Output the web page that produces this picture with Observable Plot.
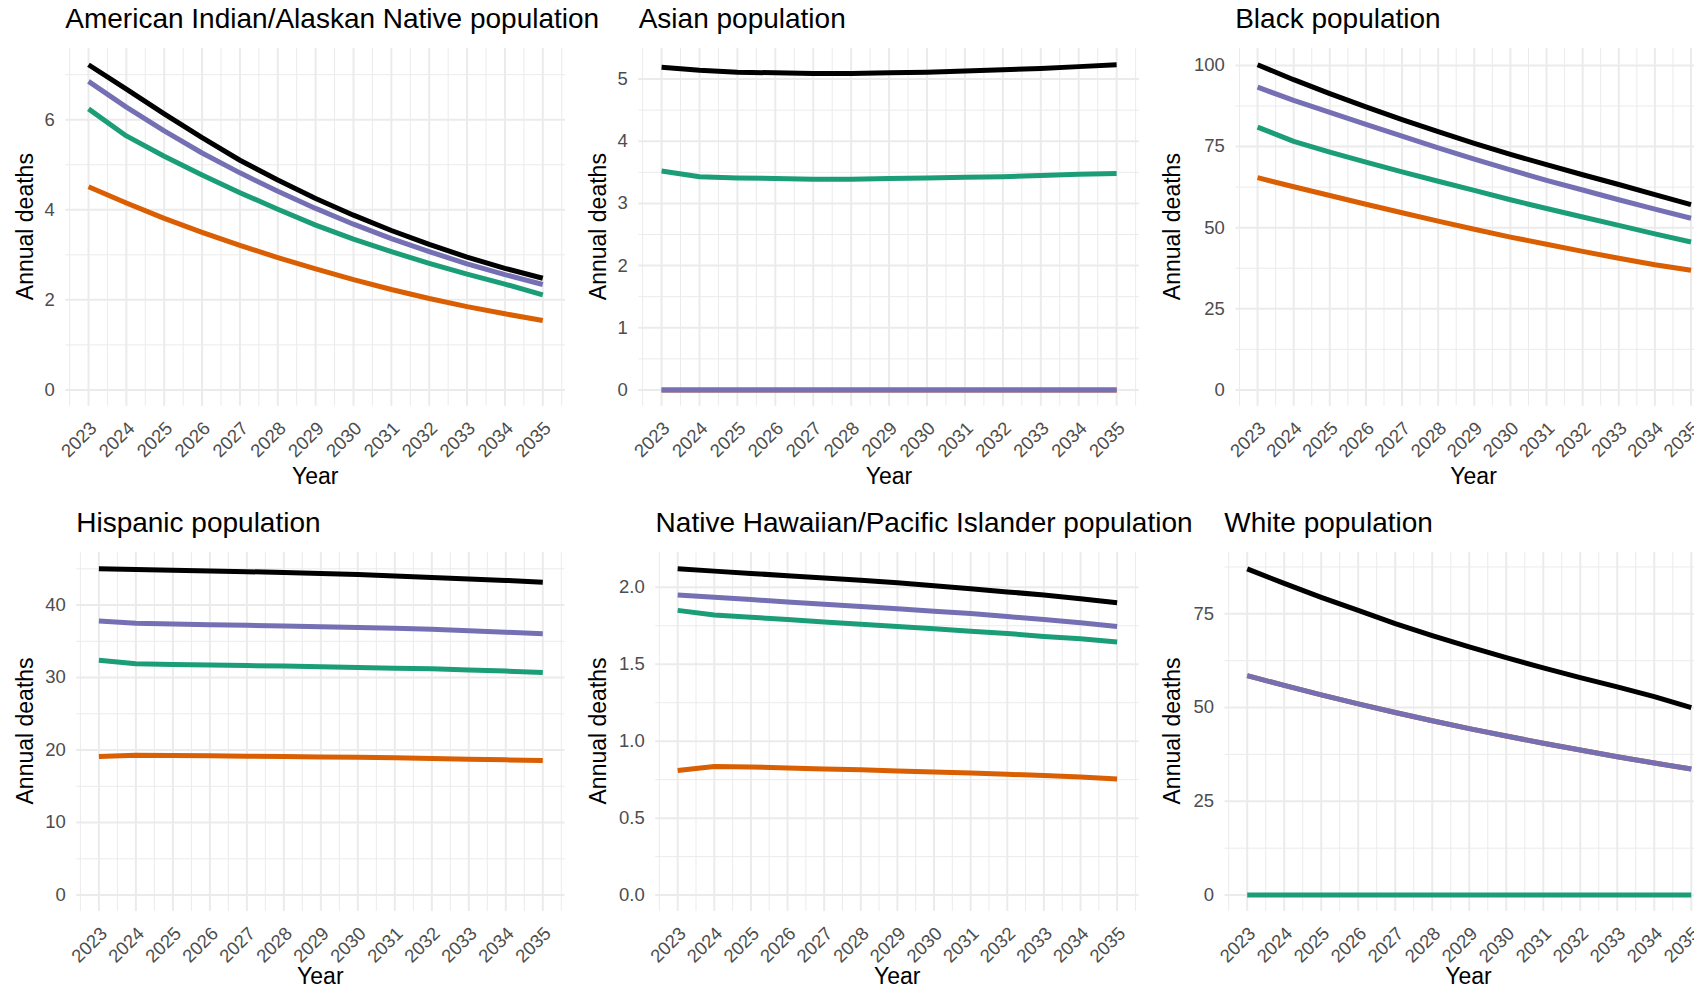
<!DOCTYPE html>
<html><head><meta charset="utf-8">
<script src="https://cdn.jsdelivr.net/npm/d3@7"></script>
<script src="https://cdn.jsdelivr.net/npm/@observablehq/plot@0.6"></script>
<style>
html,body{margin:0;padding:0;background:#fff;}
body{width:1694px;height:989px;overflow:hidden;position:relative;}
.pn{position:absolute;overflow:visible;}
.pn svg{max-width:none !important;}
#overlay{position:absolute;left:0;top:0;pointer-events:none;}
</style></head><body>
<script>
// ---------- data ----------
const years = [2023, 2024, 2025, 2026, 2027, 2028, 2029, 2030, 2031, 2032, 2033, 2034, 2035];
const seriesKeys = ["Series 1", "Series 2", "Series 3", "Series 4"]; // draw order

const aianS1 = [4.51, 4.15, 3.81, 3.50, 3.21, 2.94, 2.69, 2.45, 2.23, 2.03, 1.85, 1.69, 1.54];
const aianS2 = [6.85, 6.28, 5.75, 5.26, 4.82, 4.41, 4.03, 3.68, 3.36, 3.07, 2.80, 2.56, 2.34];
const aianS3 = [6.24, 5.64, 5.19, 4.77, 4.38, 4.01, 3.66, 3.35, 3.07, 2.81, 2.57, 2.35, 2.11];
const aianS4 = [7.22, 6.68, 6.13, 5.60, 5.10, 4.66, 4.25, 3.88, 3.54, 3.23, 2.95, 2.70, 2.48];
const aianTicks = [0, 2, 4, 6];

const asianS1 = [0, 0, 0, 0, 0, 0, 0, 0, 0, 0, 0, 0, 0];
const asianS2 = [0, 0, 0, 0, 0, 0, 0, 0, 0, 0, 0, 0, 0];
const asianS3 = [3.52, 3.43, 3.41, 3.40, 3.39, 3.39, 3.40, 3.41, 3.42, 3.43, 3.45, 3.47, 3.48];
const asianS4 = [5.19, 5.14, 5.11, 5.10, 5.09, 5.09, 5.10, 5.11, 5.13, 5.15, 5.17, 5.20, 5.23];
const asianTicks = [0, 1, 2, 3, 4, 5];

const blackS1 = [65.4, 62.6, 59.9, 57.2, 54.6, 52.0, 49.5, 47.1, 44.9, 42.7, 40.6, 38.6, 36.9];
const blackS2 = [93.3, 89.2, 85.5, 81.8, 78.2, 74.6, 71.1, 67.8, 64.6, 61.6, 58.6, 55.7, 52.9];
const blackS3 = [81.0, 76.6, 73.3, 70.2, 67.2, 64.3, 61.5, 58.6, 55.9, 53.3, 50.7, 48.1, 45.6];
const blackS4 = [100.2, 95.6, 91.3, 87.2, 83.3, 79.6, 76.0, 72.6, 69.4, 66.3, 63.3, 60.2, 57.1];
const blackTicks = [0, 25, 50, 75, 100];

const hispS1 = [19.1, 19.3, 19.25, 19.2, 19.15, 19.1, 19.05, 19.0, 18.95, 18.85, 18.75, 18.65, 18.55];
const hispS2 = [37.8, 37.5, 37.4, 37.3, 37.2, 37.1, 37.0, 36.9, 36.8, 36.65, 36.45, 36.25, 36.05];
const hispS3 = [32.4, 31.9, 31.8, 31.75, 31.65, 31.6, 31.5, 31.4, 31.3, 31.2, 31.05, 30.9, 30.7];
const hispS4 = [45.0, 44.9, 44.8, 44.7, 44.6, 44.5, 44.35, 44.2, 44.0, 43.8, 43.6, 43.4, 43.15];
const hispTicks = [0, 10, 20, 30, 40];

const nhpiS1 = [0.81, 0.836, 0.832, 0.826, 0.82, 0.814, 0.807, 0.80, 0.793, 0.785, 0.777, 0.768, 0.755];
const nhpiS2 = [1.95, 1.935, 1.92, 1.905, 1.89, 1.875, 1.86, 1.845, 1.83, 1.81, 1.79, 1.77, 1.745];
const nhpiS3 = [1.85, 1.82, 1.805, 1.79, 1.775, 1.76, 1.745, 1.73, 1.715, 1.70, 1.68, 1.665, 1.645];
const nhpiS4 = [2.12, 2.105, 2.09, 2.075, 2.06, 2.045, 2.03, 2.01, 1.99, 1.97, 1.95, 1.925, 1.90];
const nhpiTicks = [0, 0.5, 1, 1.5, 2];

const whiteS1 = [58.5, 55.9, 53.4, 51.0, 48.7, 46.5, 44.4, 42.4, 40.5, 38.7, 36.9, 35.2, 33.6];
const whiteS2 = [58.5, 55.9, 53.4, 51.0, 48.7, 46.5, 44.4, 42.4, 40.5, 38.7, 36.9, 35.2, 33.6];
const whiteS3 = [0, 0, 0, 0, 0, 0, 0, 0, 0, 0, 0, 0, 0];
const whiteS4 = [87.0, 83.1, 79.4, 75.9, 72.4, 69.2, 66.2, 63.3, 60.6, 58.0, 55.5, 52.9, 50.0];
const whiteTicks = [0, 25, 50, 75];

const panelTitles = ["American Indian/Alaskan Native population", "Asian population", "Black population",
  "Hispanic population", "Native Hawaiian/Pacific Islander population", "White population"];
const xTitle = "Year";
const yTitle = "Annual deaths";

// ---------- styling / layout ----------
const palette = ["#D95F02", "#7570B3", "#1B9E77", "#000000"];
const FONT = '"Liberation Sans", Arial, Helvetica, sans-serif';
const GRID = "#EBEBEB";
const TICKCOL = "#4D4D4D";

const panels = [
  {title: panelTitles[0], cell: 0,      L: 65.3,   R: 565,    T: 47.8,  B: 405.5, ticks: aianTicks,  fmt: d3.format("d"),   series: [aianS1, aianS2, aianS3, aianS4]},
  {title: panelTitles[1], cell: 573.4,  L: 638.7,  R: 1139.3, T: 47.8,  B: 405.5, ticks: asianTicks, fmt: d3.format("d"),   series: [asianS1, asianS2, asianS3, asianS4]},
  {title: panelTitles[2], cell: 1146.8, L: 1235.2, R: 1712,   T: 47.8,  B: 405.5, ticks: blackTicks, fmt: d3.format("d"),   series: [blackS1, blackS2, blackS3, blackS4]},
  {title: panelTitles[3], cell: 0,      L: 76.2,   R: 564.5,  T: 551.5, B: 910.4, ticks: hispTicks,  fmt: d3.format("d"),   series: [hispS1, hispS2, hispS3, hispS4]},
  {title: panelTitles[4], cell: 573.4,  L: 655.6,  R: 1139,   T: 551.5, B: 910.4, ticks: nhpiTicks,  fmt: d3.format(".1f"), series: [nhpiS1, nhpiS2, nhpiS3, nhpiS4]},
  {title: panelTitles[5], cell: 1146.8, L: 1224.3, R: 1712.8, T: 551.5, B: 910.4, ticks: whiteTicks, fmt: d3.format("d"),   series: [whiteS1, whiteS2, whiteS3, whiteS4]},
];

const span = years[years.length - 1] - years[0];
const xDomain = [years[0] - 0.05 * span, years[years.length - 1] + 0.05 * span];
const minorX = years.map(y => y - 0.5).concat([years[years.length - 1] + 0.5]);

panels.forEach((p, idx) => {
  const data = [];
  p.series.forEach((arr, i) => arr.forEach((v, j) => data.push({year: years[j], value: v, series: seriesKeys[i]})));
  const hi = d3.max(data, d => d.value), lo = Math.min(0, d3.min(data, d => d.value));
  const pad = (hi - lo) * 0.05;
  const yDomain = [lo - pad, hi + pad];
  const step = p.ticks[1] - p.ticks[0];
  const minorY = [];
  for (let k = -1; k < p.ticks.length; k++) {
    const v = p.ticks[0] + (k + 0.5) * step;
    if (v >= yDomain[0] && v <= yDomain[1]) minorY.push(v);
  }
  const mL = p.L - p.cell, mR = 8, mT = 8, mB = 80;
  const width = p.R - p.L + mL + mR;
  const height = p.B - p.T + mT + mB;
  const chart = Plot.plot({
    width, height,
    marginLeft: mL, marginRight: mR, marginTop: mT, marginBottom: mB,
    style: {fontFamily: FONT, fontSize: "18.5px", background: "transparent", overflow: "visible", maxWidth: "none"},
    x: {domain: xDomain, axis: null},
    y: {domain: yDomain, axis: null},
    color: {domain: seriesKeys, range: palette},
    marks: [
      Plot.ruleY(minorY, {stroke: GRID, strokeWidth: 1}),
      Plot.ruleX(minorX, {stroke: GRID, strokeWidth: 1}),
      Plot.ruleY(p.ticks, {stroke: GRID, strokeWidth: 2}),
      Plot.ruleX(years, {stroke: GRID, strokeWidth: 2}),
      Plot.line(data, {x: "year", y: "value", z: "series", stroke: "series", strokeWidth: 5, strokeLinejoin: "round", strokeLinecap: "butt"}),
      Plot.axisY({ticks: p.ticks, tickFormat: p.fmt, tickSize: 0, tickPadding: 11, label: null, color: TICKCOL}),
      Plot.axisX({ticks: years, tickFormat: d => String(d), tickSize: 0, tickPadding: 14, tickRotate: -45, textAnchor: "end", lineAnchor: "top", label: null, color: TICKCOL})
    ]
  });
  chart.style.maxWidth = "none";
  chart.setAttribute("width", width);
  chart.setAttribute("height", height);
  chart.style.width = width + "px";
  chart.style.height = height + "px";
  const div = document.createElement("div");
  div.className = "pn";
  div.style.left = p.cell + "px";
  div.style.top = (p.T - mT) + "px";
  div.style.width = width + "px";
  div.style.height = height + "px";
  div.appendChild(chart);
  document.body.appendChild(div);
});

// ---------- overlay text ----------
const ov = d3.select("body").append("svg").attr("id", "overlay").attr("width", 1694).attr("height", 989)
  .style("font-family", FONT);
panels.forEach((p, idx) => {
  ov.append("text").attr("x", p.L).attr("y", p.T - 19.5).attr("font-size", 28).attr("fill", "#000").text(p.title);
  ov.append("text").attr("x", (p.L + p.R) / 2).attr("y", idx < 3 ? p.B + 78 : 984).attr("font-size", 23).attr("fill", "#000")
    .attr("text-anchor", "middle").text(xTitle);
  ov.append("text").attr("transform", `translate(${p.cell + 33},${(p.T + p.B) / 2}) rotate(-90)`)
    .attr("font-size", 23).attr("fill", "#000").attr("text-anchor", "middle").text(yTitle);
});
</script>
</body></html>
